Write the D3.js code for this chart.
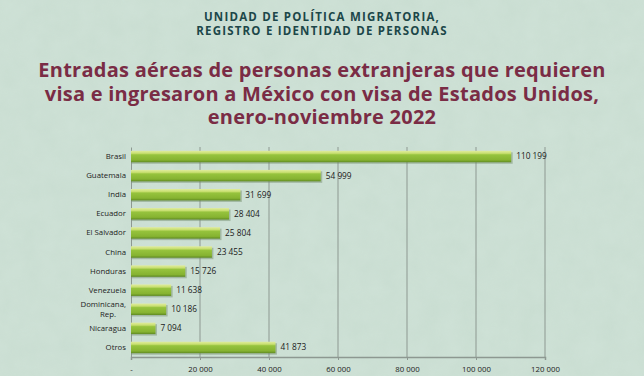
<!DOCTYPE html>
<html>
<head>
<meta charset="utf-8" />
<script src="https://d3js.org/d3.v7.min.js"></script>
<style>
  html, body { margin: 0; padding: 0; background: #cde0d5; }
  svg { display: block; font-family: "Open Sans", Lato, sans-serif; }
</style>
</head>
<body>
<div id="chart"></div>
<script>
const categories = ["Brasil", "Guatemala", "India", "Ecuador", "El Salvador", "China",
  "Honduras", "Venezuela", "Dominicana, Rep.", "Nicaragua", "Otros"];
const values = [110199, 54999, 31699, 28404, 25804, 23455, 15726, 11638, 10186, 7094, 41873];
const tickValues = [0, 20000, 40000, 60000, 80000, 100000, 120000];
const headerLines = ["UNIDAD DE POLÍTICA MIGRATORIA,", "REGISTRO E IDENTIDAD DE PERSONAS"];
const titleLines = ["Entradas aéreas de personas extranjeras que requieren",
  "visa e ingresaron a México con visa de Estados Unidos,", "enero-noviembre 2022"];

const width = 644, height = 376;
const margin = { top: 147, left: 131, right: 99, bottom: 19 };
const chartWidth = width - margin.left - margin.right;
const chartHeight = height - margin.top - margin.bottom;

const fmt = v => v === 0 ? "-" : d3.format(",")(v).replace(/,/g, " ");

const svg = d3.select("#chart").append("svg")
  .attr("width", width).attr("height", height);

const defs = svg.append("defs");
// paper texture
const tex = defs.append("filter").attr("id", "tex");
tex.append("feTurbulence").attr("type", "fractalNoise").attr("baseFrequency", 0.05).attr("numOctaves", 3).attr("seed", 4);
tex.append("feColorMatrix").attr("values", "0 0 0 0 0.45  0 0 0 0 0.6  0 0 0 0 0.5  0 0 0 0.35 -0.05");
svg.append("rect").attr("width", width).attr("height", height).attr("fill", "#cee1d6");
svg.append("rect").attr("width", width).attr("height", height).attr("filter", "url(#tex)").attr("opacity", 0.6);

const grad = defs.append("linearGradient").attr("id", "barGrad")
  .attr("x1", 0).attr("x2", 0).attr("y1", 0).attr("y2", 1);
grad.append("stop").attr("offset", "0%").attr("stop-color", "#e0ec9e");
grad.append("stop").attr("offset", "22%").attr("stop-color", "#c8df70");
grad.append("stop").attr("offset", "35%").attr("stop-color", "#96c33d");
grad.append("stop").attr("offset", "80%").attr("stop-color", "#86b331");
grad.append("stop").attr("offset", "100%").attr("stop-color", "#5f8a22");

// header
svg.append("g").selectAll("text").data(headerLines).enter().append("text")
  .attr("x", 322).attr("y", (d, i) => 21 + i * 14)
  .attr("text-anchor", "middle")
  .attr("font-size", 11.5).attr("font-weight", 700).attr("letter-spacing", 1.2)
  .attr("fill", "#1c4749")
  .text(d => d);

// title
svg.append("g").selectAll("text").data(titleLines).enter().append("text")
  .attr("x", 322).attr("y", (d, i) => 77 + i * 23.5)
  .attr("text-anchor", "middle")
  .attr("font-size", 20).attr("font-weight", 700).attr("letter-spacing", 0.25)
  .attr("fill", "#7a2c45")
  .text(d => d);

const chart = svg.append("g").attr("transform", `translate(${margin.left},${margin.top})`);

const xScale = d3.scaleLinear().domain([0, 120000]).range([0, chartWidth]);
const yScale = d3.scaleBand().domain(categories).range([0, chartHeight]).paddingInner(0.4).paddingOuter(0.2);

// gridlines
chart.selectAll(".grid").data(tickValues.slice(1)).enter().append("line")
  .attr("x1", d => xScale(d)).attr("x2", d => xScale(d))
  .attr("y1", 0).attr("y2", chartHeight)
  .attr("stroke", "#8d9891").attr("stroke-width", 1);

// x axis
const xAxis = chart.append("g").attr("transform", `translate(0,${chartHeight})`)
  .call(d3.axisBottom(xScale).tickValues(tickValues).tickFormat(fmt).tickSize(3));
xAxis.select(".domain").attr("stroke", "#8d9891").attr("stroke-width", 1.5);
xAxis.selectAll(".tick line").attr("stroke", "#8d9891");
xAxis.selectAll("text").attr("font-size", 7.8).attr("fill", "#222").attr("dy", "1.1em")
  .style("font-family", "\"Open Sans\", sans-serif");

// y axis
const yAxis = chart.append("g")
  .call(d3.axisLeft(yScale).tickSize(0).tickPadding(5));
yAxis.select(".domain").attr("stroke", "#8d9891").attr("stroke-width", 1);
yAxis.selectAll("text").attr("font-size", 7.8).attr("fill", "#222")
  .style("font-family", "\"Open Sans\", sans-serif")
  .each(function (d) {
    const t = d3.select(this);
    const parts = d.split(", ");
    if (parts.length > 1) {
      t.text(null);
      t.append("tspan").attr("x", -5).attr("dy", "-0.3em").text(parts[0] + ",");
      t.append("tspan").attr("x", -15).attr("dy", "1.25em").text(parts[1]);
    }
  });

// bar shadows
chart.selectAll(".shadow").data(values).enter().append("rect")
  .attr("x", 0.5)
  .attr("y", (d, i) => yScale(categories[i]) + 1.5)
  .attr("width", d => xScale(d) + 1)
  .attr("height", yScale.bandwidth())
  .attr("fill", "#6f8a68").attr("opacity", 0.45);

chart.selectAll(".bar").data(values).enter().append("rect")
  .attr("x", 0)
  .attr("y", (d, i) => yScale(categories[i]))
  .attr("width", d => xScale(d))
  .attr("height", yScale.bandwidth())
  .attr("fill", "url(#barGrad)");

chart.selectAll(".val").data(values).enter().append("text")
  .attr("x", d => xScale(d) + 5)
  .attr("y", (d, i) => yScale(categories[i]) + yScale.bandwidth() / 2)
  .attr("dy", "0.35em")
  .attr("font-size", 8.3).attr("fill", "#1a1a1a")
  .text(d => fmt(d));
</script>
</body>
</html>
